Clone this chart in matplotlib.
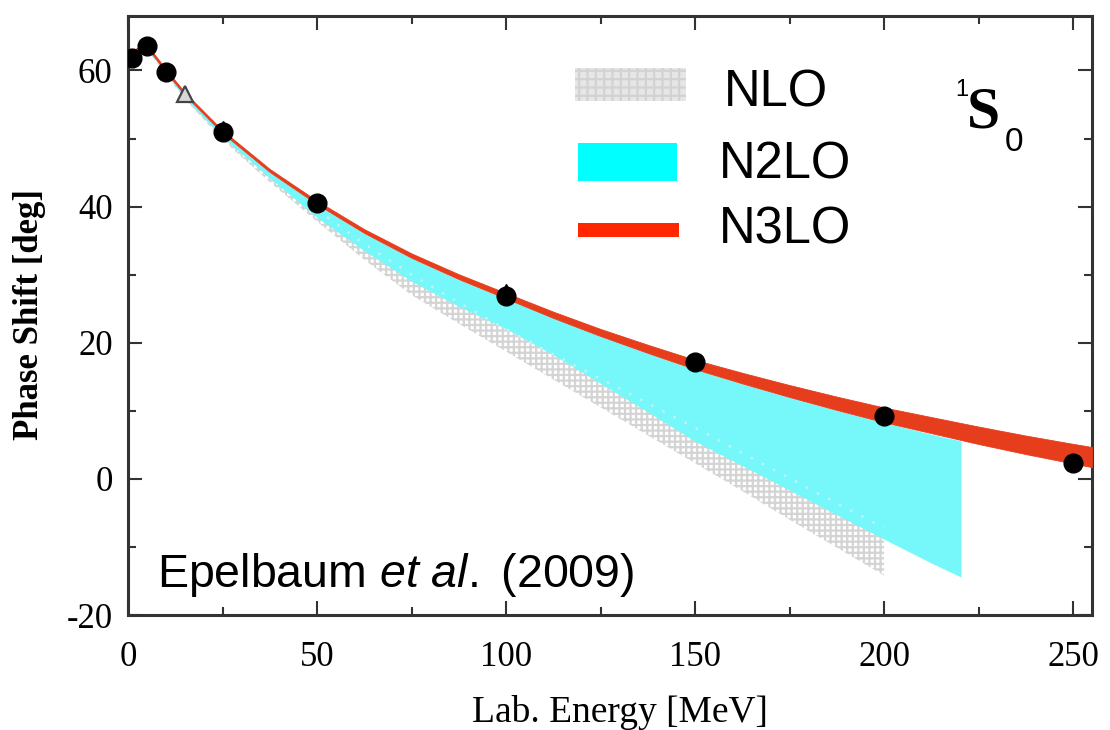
import matplotlib
matplotlib.use("Agg")
import numpy as np
import matplotlib.pyplot as plt
from matplotlib.patches import Rectangle
from matplotlib.ticker import MultipleLocator

# ---- data -------------------------------------------------------------
# N3LO band (1S0 phase shift, degrees) vs. lab energy (MeV): centre and half width
energy_n3lo = [2, 5, 10, 15, 25, 37.5, 50, 62.5, 75, 87.5, 100, 112.5, 125, 137.5,
               150, 162.5, 175, 187.5, 200, 212.5, 225, 237.5, 250, 255]
n3lo_center = [63.0, 63.6, 60.0, 56.6, 51.0, 45.3, 40.6, 36.4, 32.8, 29.7, 26.9, 24.1,
               21.5, 19.1, 16.8, 14.8, 12.9, 11.1, 9.4, 7.9, 6.4, 5.0, 3.7, 3.2]
n3lo_halfwidth = [0.2, 0.2, 0.2, 0.2, 0.2, 0.22, 0.25, 0.28, 0.32, 0.36, 0.4, 0.46,
                  0.52, 0.6, 0.68, 0.78, 0.88, 0.98, 1.08, 1.18, 1.28, 1.36, 1.44, 1.48]

# N2LO band
energy_n2lo = [2, 5, 10, 15, 25, 37.5, 50, 62.5, 75, 87.5, 100, 112.5, 125, 137.5,
               150, 162.5, 175, 187.5, 200, 212.5, 220.5]
n2lo_upper = [62.8, 63.4, 59.8, 56.4, 50.8, 45.0, 40.3, 36.0, 32.4, 29.2, 26.4, 23.6,
              20.9, 18.4, 16.0, 13.9, 11.9, 10.0, 8.2, 6.5, 5.5]
n2lo_lower = [62.6, 63.2, 59.5, 56.0, 50.2, 44.2, 38.4, 33.5, 29.0, 25.3, 22.0, 18.2,
              14.0, 9.8, 5.5, 1.9, -1.7, -5.3, -8.9, -12.4, -14.5]

# NLO band
energy_nlo = [2, 5, 10, 15, 25, 37.5, 50, 62.5, 75, 87.5, 100, 112.5, 125, 137.5,
              150, 162.5, 175, 187.5, 200]
nlo_upper = [62.8, 63.4, 59.8, 56.3, 50.5, 44.8, 39.5, 34.5, 30.0, 25.9, 22.0, 18.3,
             14.7, 11.1, 7.5, 3.8, 0.1, -3.6, -7.2]
nlo_lower = [62.5, 63.1, 59.4, 55.8, 49.8, 43.6, 37.8, 32.2, 27.0, 22.8, 18.7, 14.6,
             10.5, 6.4, 2.3, -1.8, -6.0, -10.1, -14.2]

# Partial-wave analysis points
pwa_energy = [1, 5, 10, 25, 50, 100, 150, 200, 250]
pwa_phase = [61.8, 63.6, 59.8, 50.9, 40.6, 26.9, 17.1, 9.2, 2.3]
alt_energy = [25, 100]
alt_phase = [51.7, 27.7]
tri_energy = [15]
tri_phase = [56.6]

x_ticks = [0, 50, 100, 150, 200, 250]
y_ticks = [-20, 0, 20, 40, 60]
legend_labels = ["NLO", "N2LO", "N3LO"]

# ---- figure -------------------------------------------------------------
W, H = 1110, 730
plt.rcParams["hatch.linewidth"] = 1.6
plt.rcParams["axes.unicode_minus"] = False
plt.rcParams["mathtext.fontset"] = "custom"
plt.rcParams["mathtext.rm"] = "Liberation Sans"
plt.rcParams["mathtext.it"] = "Liberation Sans:italic"

fig = plt.figure(figsize=(W / 100, H / 100), dpi=100)
ax = fig.add_axes([128 / W, 1 - 615 / H, 964 / W, 599 / H])

serif = "Liberation Serif"
sans = "Liberation Sans"

n3lo_c = np.array(n3lo_center)
n3lo_hw = np.array(n3lo_halfwidth)

# NLO: hatched light grey band
ax.fill_between(energy_nlo, nlo_lower, nlo_upper, facecolor="white",
                edgecolor="#D4D4D4", hatch="+++", linewidth=0, zorder=1)
# N2LO: cyan band on top
ax.fill_between(energy_n2lo, n2lo_lower, n2lo_upper, facecolor="#76F7FA",
                edgecolor="none", linewidth=0, zorder=2)
# faint trace of the NLO upper edge showing through
ax.plot(energy_nlo[6:], nlo_upper[6:], color="#C4F2F2", lw=1.8,
        dashes=(1, 4), zorder=2.5)
# N3LO: red band
ax.fill_between(energy_n3lo, n3lo_c - n3lo_hw, n3lo_c + n3lo_hw,
                facecolor="#E63D1C", edgecolor="#E63D1C", linewidth=0.6, zorder=3)

# data points
ax.plot(alt_energy, alt_phase, "^", color="black", ms=9, zorder=4)
ax.plot(tri_energy, tri_phase, "^", mfc="#D8D8D8", mec="#444444", mew=1.6,
        ms=12, zorder=4)
ax.plot(pwa_energy, pwa_phase, "o", color="black", ms=13.5, zorder=5)

# axes
ax.set_xlim(0, 255)
ax.set_ylim(-20, 68)
ax.set_xticks(x_ticks)
ax.set_yticks(y_ticks)
ax.xaxis.set_minor_locator(MultipleLocator(25))
ax.yaxis.set_minor_locator(MultipleLocator(10))
ax.tick_params(which="both", direction="in", top=True, right=True,
               width=1.5, color="#333333")
ax.tick_params(which="major", length=10)
ax.tick_params(which="minor", length=5.5)
ax.tick_params(axis="x", pad=19)
ax.tick_params(axis="y", pad=11)
for lab in ax.get_xticklabels() + ax.get_yticklabels():
    lab.set_fontfamily(serif)
    lab.set_fontsize(25)
for sp in ax.spines.values():
    sp.set_linewidth(2.2)
    sp.set_color("#333333")

fig.text(620 / W, 1 - 722 / H, "Lab. Energy [MeV]", fontfamily=serif,
         fontsize=27, ha="center", va="baseline")
fig.text(30 / W, 1 - 314 / H, "Phase Shift [deg]", fontfamily=serif,
         fontweight="bold", fontsize=25, rotation=90, ha="center", va="center")

# legend, drawn by hand in axes coordinates
ax.add_patch(Rectangle((0.4637, 0.8586), 0.1151, 0.0541, transform=ax.transAxes,
                       facecolor="#E6E6E6", edgecolor="#D2D2D2", hatch="++",
                       linewidth=0, zorder=6))
ax.add_patch(Rectangle((0.4665, 0.725), 0.1033, 0.0625, transform=ax.transAxes,
                       facecolor="#00FFFF", edgecolor="none", zorder=6))
ax.add_patch(Rectangle((0.4665, 0.6316), 0.1051, 0.0234, transform=ax.transAxes,
                       facecolor="#FF2600", edgecolor="none", zorder=6))
for ypos, xpos, lab in zip([0.8486, 0.729, 0.6205],
                           [(724 - 128) / 964, (719 - 128) / 964, (719 - 128) / 964],
                           legend_labels):
    ax.text(xpos, ypos, lab, transform=ax.transAxes, fontfamily=sans,
            fontsize=36.5, ha="left", va="baseline", zorder=7)

# partial-wave label 1S0
ax.text((967 - 128) / 964, (615 - 127) / 599, "S", transform=ax.transAxes,
        fontfamily=serif, fontweight="bold", fontsize=43, ha="left",
        va="baseline", zorder=7)
ax.text((955 - 128) / 964, (615 - 96) / 599, "1", transform=ax.transAxes,
        fontfamily=sans, fontsize=17, ha="left", va="baseline", zorder=7)
ax.text((1005 - 128) / 964, (615 - 151) / 599, "0", transform=ax.transAxes,
        fontfamily=sans, fontsize=24, ha="left", va="baseline", zorder=7)

# citation
ax.text((157 - 128) / 964, (615 - 587) / 599, r"Epelbaum $\mathit{et\ al.}$ (2009)",
        transform=ax.transAxes, fontfamily=sans, fontsize=33.5, ha="left",
        va="baseline", zorder=7)

fig.savefig("out.png", dpi=100)
